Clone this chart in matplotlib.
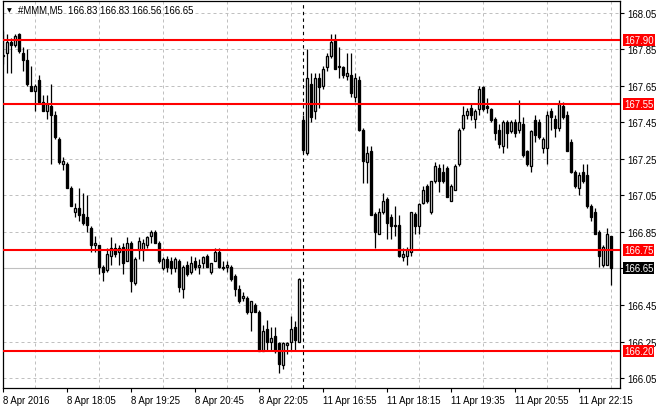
import matplotlib
matplotlib.use("Agg")
import matplotlib.pyplot as plt
import matplotlib.transforms as mtransforms

# 5-minute bars, #MMM: 8 Apr 2016 16:45 .. 22:55, then 11 Apr 2016 16:30 .. 22:55
opens = [
    167.81, 167.83, 167.89, 167.87, 167.93, 167.83, 167.79, 167.65, 167.62, 167.68,
    167.56, 167.51, 167.54, 167.49, 167.36, 167.22, 167.22, 167.09, 166.96, 166.98,
    166.95, 166.93, 166.87, 166.78, 166.78, 166.66, 166.64, 166.72, 166.76, 166.74,
    166.77, 166.69, 166.79, 166.57, 166.75, 166.75, 166.78, 166.83, 166.85, 166.79,
    166.65, 166.70, 166.69, 166.65, 166.69, 166.54, 166.67, 166.63, 166.69, 166.66,
    166.68, 166.72, 166.63, 166.69, 166.74, 166.66, 166.66, 166.66, 166.61, 166.54,
    166.49, 166.49, 166.41, 166.45, 166.41, 166.20, 166.32, 166.25, 166.28, 166.24,
    166.12, 166.23, 166.25, 166.33, 166.25,
    167.46, 167.28, 167.66, 167.51, 167.69, 167.65, 167.75, 167.81, 167.90, 167.75,
    167.75, 167.70, 167.71, 167.59, 167.68, 167.41, 167.23, 167.29, 166.95, 166.84,
    166.96, 167.03, 166.93, 166.89, 166.89, 166.71, 166.72, 166.74, 166.95, 166.88,
    167.01, 167.10, 166.96, 167.13, 167.20, 167.18, 167.20, 167.02, 167.08, 167.22,
    167.42, 167.49, 167.53, 167.47, 167.52, 167.64, 167.54, 167.52, 167.47, 167.41,
    167.32, 167.45, 167.40, 167.45, 167.41, 167.44, 167.29, 167.21, 167.46, 167.45,
    167.31, 167.31, 167.51, 167.47, 167.42, 167.54, 167.49, 167.34, 167.18, 167.09,
    167.18, 167.16, 166.99, 166.96, 166.85, 166.67, 166.67, 166.83,
]
highs = [
    167.95, 167.93, 167.91, 167.93, 167.94, 167.86, 167.85, 167.76, 167.66, 167.71,
    167.60, 167.60, 167.66, 167.51, 167.37, 167.26, 167.23, 167.10, 167.01, 167.09,
    167.06, 167.05, 166.88, 166.83, 166.78, 166.67, 166.76, 166.82, 166.79, 166.78,
    166.79, 166.82, 166.80, 166.71, 166.82, 166.81, 166.83, 166.86, 166.86, 166.80,
    166.71, 166.72, 166.71, 166.71, 166.70, 166.67, 166.69, 166.72, 166.71, 166.70,
    166.72, 166.73, 166.68, 166.76, 166.76, 166.69, 166.69, 166.67, 166.62, 166.56,
    166.52, 166.50, 166.47, 166.46, 166.42, 166.34, 166.37, 166.33, 166.33, 166.25,
    166.25, 166.25, 166.39, 166.36, 166.60,
    167.49, 167.85, 167.72, 167.72, 167.72, 167.76, 167.83, 167.93, 167.93, 167.86,
    167.76, 167.83, 167.83, 167.72, 167.70, 167.42, 167.32, 167.32, 166.96, 166.98,
    167.06, 167.04, 166.95, 166.99, 166.94, 166.76, 166.77, 166.96, 166.96, 167.01,
    167.10, 167.11, 167.13, 167.23, 167.22, 167.22, 167.21, 167.11, 167.22, 167.42,
    167.54, 167.53, 167.55, 167.52, 167.65, 167.65, 167.58, 167.53, 167.48, 167.44,
    167.46, 167.46, 167.46, 167.47, 167.57, 167.48, 167.30, 167.41, 167.49, 167.47,
    167.37, 167.51, 167.53, 167.49, 167.57, 167.56, 167.51, 167.36, 167.19, 167.18,
    167.22, 167.22, 167.00, 166.98, 166.86, 166.78, 166.87, 166.83,
]
lows = [
    167.77, 167.72, 167.72, 167.86, 167.83, 167.73, 167.65, 167.62, 167.51, 167.56,
    167.51, 167.47, 167.22, 167.36, 167.22, 167.19, 167.09, 166.99, 166.93, 166.91,
    166.89, 166.85, 166.74, 166.74, 166.62, 166.58, 166.63, 166.67, 166.71, 166.67,
    166.62, 166.69, 166.52, 166.56, 166.70, 166.69, 166.76, 166.79, 166.79, 166.68,
    166.64, 166.63, 166.62, 166.63, 166.52, 166.49, 166.61, 166.62, 166.64, 166.62,
    166.65, 166.66, 166.62, 166.69, 166.65, 166.64, 166.63, 166.58, 166.50, 166.46,
    166.47, 166.40, 166.31, 166.41, 166.20, 166.20, 166.20, 166.20, 166.19, 166.08,
    166.10, 166.18, 166.20, 166.20, 166.25,
    167.28, 167.27, 167.45, 167.47, 167.53, 167.63, 167.73, 167.80, 167.74, 167.69,
    167.69, 167.68, 167.59, 167.56, 167.40, 167.12, 167.12, 166.94, 166.76, 166.84,
    166.95, 166.81, 166.81, 166.83, 166.71, 166.69, 166.67, 166.72, 166.84, 166.84,
    167.00, 167.01, 166.95, 167.12, 167.07, 167.12, 167.04, 167.02, 167.08, 167.21,
    167.41, 167.47, 167.46, 167.42, 167.49, 167.51, 167.50, 167.45, 167.35, 167.31,
    167.28, 167.31, 167.39, 167.37, 167.39, 167.26, 167.21, 167.18, 167.34, 167.36,
    167.28, 167.22, 167.41, 167.37, 167.40, 167.47, 167.29, 167.17, 167.09, 167.05,
    167.12, 166.98, 166.91, 166.84, 166.66, 166.66, 166.67, 166.56,
]
closes = [
    167.82, 167.89, 167.87, 167.92, 167.84, 167.79, 167.66, 167.62, 167.65, 167.56,
    167.51, 167.55, 167.49, 167.37, 167.23, 167.24, 167.09, 166.99, 166.98, 166.94,
    166.90, 166.89, 166.78, 166.79, 166.66, 166.63, 166.73, 166.76, 166.73, 166.76,
    166.68, 166.79, 166.58, 166.70, 166.80, 166.79, 166.82, 166.85, 166.79, 166.69,
    166.70, 166.66, 166.65, 166.70, 166.55, 166.66, 166.62, 166.68, 166.66, 166.67,
    166.71, 166.66, 166.68, 166.74, 166.66, 166.65, 166.67, 166.59, 166.54, 166.47,
    166.50, 166.41, 166.47, 166.41, 166.20, 166.31, 166.25, 166.27, 166.20, 166.13,
    166.24, 166.24, 166.32, 166.26, 166.59,
    167.30, 167.69, 167.48, 167.69, 167.64, 167.74, 167.81, 167.89, 167.74, 167.76,
    167.71, 167.72, 167.61, 167.69, 167.41, 167.24, 167.28, 166.94, 166.85, 166.96,
    167.02, 166.90, 166.88, 166.88, 166.72, 166.73, 166.75, 166.96, 166.88, 167.00,
    167.08, 167.02, 167.13, 167.21, 167.13, 167.13, 167.04, 167.10, 167.21, 167.41,
    167.49, 167.51, 167.49, 167.51, 167.63, 167.52, 167.53, 167.46, 167.39, 167.33,
    167.45, 167.39, 167.45, 167.39, 167.45, 167.27, 167.22, 167.40, 167.38, 167.37,
    167.36, 167.49, 167.48, 167.42, 167.55, 167.48, 167.29, 167.18, 167.10, 167.16,
    167.13, 166.99, 166.93, 166.84, 166.72, 166.77, 166.84, 166.65,
]

levels = [167.90, 167.55, 166.75, 166.20]
bid = 166.65
separator_bar = 75
price_ticks = [166.05, 166.25, 166.45, 166.65, 166.85, 167.05, 167.25, 167.45, 167.65, 167.85, 168.05]
date_bars = [0, 16, 32, 48, 64, 80, 96, 112, 128, 144]
date_labels = ["8 Apr 2016", "8 Apr 18:05", "8 Apr 19:25", "8 Apr 20:45", "8 Apr 22:05",
               "11 Apr 16:55", "11 Apr 18:15", "11 Apr 19:35", "11 Apr 20:55", "11 Apr 22:15"]
header = "#MMM,M5  166.83 166.83 166.56 166.65"

plt.rcParams['font.family'] = ['Liberation Sans', 'DejaVu Sans']
W, H = 660, 410
FS = 6.9
fig = plt.figure(figsize=(W / 100, H / 100), dpi=100)
ax = fig.add_axes([2.5 / W, 21 / H, 617.5 / W, 387 / H])

# grid
ax.set_xticks(range(0, 155, 8), minor=True)
ax.grid(True, which='minor', axis='x', color='#c0c0c0', lw=0.72, ls=(0, (3, 3)), zorder=0)
ax.grid(True, which='major', axis='y', color='#c0c0c0', lw=0.72, ls=(0, (3, 3)), zorder=0)
ax.set_axisbelow(True)

# bid line and period separator
ax.axhline(bid, color='#c0c0c0', lw=0.8, zorder=1)
ax.axvline(separator_bar, color='black', lw=0.8, ls=(0, (3, 3)), zorder=2)

# candles
xs = list(range(len(opens)))
bottoms = [min(o, c) for o, c in zip(opens, closes)]
heights = [abs(c - o) for o, c in zip(opens, closes)]
fills = ['white' if c >= o else 'black' for o, c in zip(opens, closes)]
ax.vlines(xs, lows, highs, color='black', lw=0.9, zorder=3)
ax.bar(xs, heights, bottom=bottoms, width=0.56, color=fills, edgecolor='black',
       linewidth=0.95, zorder=4)

# horizontal levels
for lv in levels:
    ax.axhline(lv, color='#ff0000', lw=1.5, zorder=5)

ax.set_xlim(-0.125, 154.25)
ax.set_ylim(165.996, 168.113)

# axes styling
for s in ax.spines.values():
    s.set_color('black')
    s.set_linewidth(0.9)
ax.yaxis.tick_right()
ax.set_yticks(price_ticks)
# the bid tick is covered by the bid label box
ax.set_yticklabels(["" if abs(p - bid) < 1e-6 else f"{p:.2f}" for p in price_ticks])
ax.tick_params(axis='y', which='major', direction='out', length=3, width=0.8,
               pad=2, labelsize=FS, colors='black')
ax.set_xticks(date_bars)
ax.set_xticklabels(date_labels)
ax.tick_params(axis='x', which='major', direction='out', length=3, width=0.8,
               pad=2, labelsize=FS)
ax.tick_params(axis='x', which='minor', length=0)
for lab in ax.get_xticklabels():
    lab.set_ha('left')

# price labels on the right scale
tr = mtransforms.blended_transform_factory(ax.transAxes, ax.transData)
x_lab = 1 + 4 / 617.5
for lv in levels:
    ax.text(x_lab, lv, f"{lv:.2f}", transform=tr, color='white', fontsize=FS,
            va='center', ha='left', clip_on=False, zorder=10,
            bbox=dict(boxstyle='square,pad=0.1', fc='#ff0000', ec='none'))
ax.text(x_lab, bid, f"{bid:.2f}", transform=tr, color='white', fontsize=FS,
        va='center', ha='left', clip_on=False, zorder=10,
        bbox=dict(boxstyle='square,pad=0.1', fc='black', ec='none'))

# header
fig.text(9.5 / W, 1 - 10.5 / H, "\u25bc", fontsize=4.5, ha='center', va='center',
         family='DejaVu Sans')
fig.text(18 / W, 1 - 10.5 / H, header, fontsize=FS, ha='left', va='center')

fig.savefig("out.png", dpi=100, facecolor='white')
